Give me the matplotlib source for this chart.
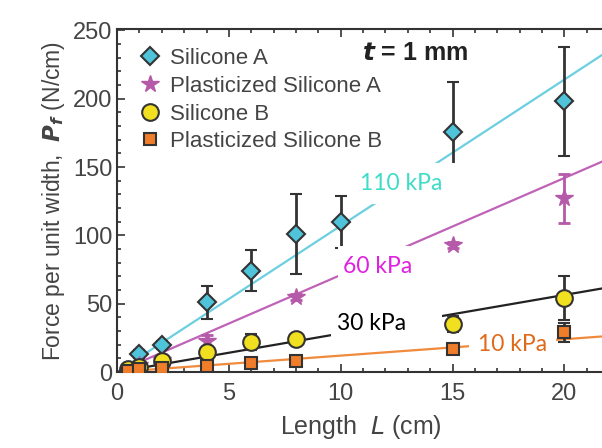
import numpy as np
import matplotlib.pyplot as plt
from matplotlib.lines import Line2D
from matplotlib.patches import Rectangle
from matplotlib.ticker import MultipleLocator

plt.rcParams['font.family'] = ['Liberation Sans', 'DejaVu Sans']

# Silicone A
L_a = [1, 2, 4, 6, 8, 10, 15, 20]
F_a = [13, 20, 51, 74, 101, 110, 176, 198]
E_a = [3, 3, 12, 15, 29, 19, 36, 40]

# Plasticized Silicone A
L_pa = [1, 2, 4, 8, 15, 20]
F_pa = [5, 9, 23, 55, 93, 127]
E_pa = [0, 0, 4, 2, 2, 18]

# Silicone B
L_b = [0.5, 1, 2, 4, 6, 8, 15, 20]
F_b = [2, 4, 8, 15, 22, 24, 35, 54]
E_b = [1, 1, 2, 3, 6, 3, 6, 16]

# Plasticized Silicone B
L_pb = [0.5, 1, 2, 4, 6, 8, 15, 20]
F_pb = [1, 2, 3, 4.5, 6.5, 8, 17, 29]
E_pb = [0.5, 0.5, 1, 1, 1, 1, 2, 7]

# fitted slopes (N/cm per cm) and labels
slopes = [10.7, 7.1, 2.82, 1.2]
moduli = ['110 kPa', '60 kPa', '30 kPa', '10 kPa']
line_colors = ['#6ccfe0', '#c062b8', '#222222', '#f08a3c']
label_colors = ['#3fdcc8', '#e020e0', '#000000', '#e06a1a']

legend_names = ['Silicone A', 'Plasticized Silicone A', 'Silicone B', 'Plasticized Silicone B']

# white label patches (x0, x1, y0, y1) and text centres
boxes = [(10.6, 15.8, 123, 153), (9.9, 13.1, 67, 92), (9.55, 14.55, 22, 48), (15.74, 19.64, 10, 28)]
label_pos = [(12.7, 138), (11.66, 77), (11.4, 35.7), (17.67, 20.4)]

fig = plt.figure(figsize=(6.02, 4.48), dpi=100)
ax = fig.add_axes([0.1944, 0.1696, 0.81, 0.7656])

xmax = 21.8
xs = np.array([0, xmax])
for s, c in zip(slopes, line_colors):
    ax.plot(xs, s * xs, color=c, lw=1.6, zorder=2)

edge = '#333333'
ax.errorbar(L_a, F_a, yerr=E_a, fmt='D', ms=9, mfc='#4fc3d9', mec=edge, mew=1.5,
            ecolor='#333333', elinewidth=2, capsize=4, capthick=2, zorder=4)
ax.errorbar(L_pa, F_pa, yerr=E_pa, fmt='*', ms=13, mfc='#b55aa8', mec='#b55aa8',
            ecolor='#b55aa8', elinewidth=2, capsize=4, capthick=2, zorder=4)
ax.errorbar(L_b, F_b, yerr=E_b, fmt='o', ms=12, mfc='#f0e020', mec=edge, mew=1.5,
            ecolor='#333333', elinewidth=2, capsize=4, capthick=2, zorder=4)
ax.errorbar(L_pb, F_pb, yerr=E_pb, fmt='s', ms=9, mfc='#f07d2a', mec=edge, mew=1.5,
            ecolor='#333333', elinewidth=2, capsize=4, capthick=2, zorder=4)

for (x0, x1, y0, y1), txt, (x, y), c in zip(boxes, moduli, label_pos, label_colors):
    ax.add_patch(Rectangle((x0, y0), x1 - x0, y1 - y0, fc='white', ec='none', zorder=5))
    ax.text(x, y, txt, color=c, fontsize=16.5, ha='center', va='center',
            family=['Lato', 'DejaVu Sans'], zorder=6)

ax.text(0.502, 0.93, r'$\bfit{t}$ = 1 mm', transform=ax.transAxes, fontsize=18,
        fontweight='bold', color='#222222', ha='left', va='center')

handles = [
    Line2D([], [], ls='none', marker='D', ms=9, mfc='#4fc3d9', mec=edge, mew=1.5),
    Line2D([], [], ls='none', marker='*', ms=13, mfc='#b55aa8', mec='#b55aa8'),
    Line2D([], [], ls='none', marker='o', ms=12, mfc='#f0e020', mec=edge, mew=1.5),
    Line2D([], [], ls='none', marker='s', ms=9, mfc='#f07d2a', mec=edge, mew=1.5),
]
leg = ax.legend(handles, legend_names, loc='upper left', frameon=False, fontsize=16,
                handlelength=0.8, handletextpad=0.5, labelspacing=0.3,
                borderaxespad=0.0, bbox_to_anchor=(0.032, 0.97))
for t in leg.get_texts():
    t.set_color('#444444')

ax.set_xlim(0, xmax)
ax.set_ylim(0, 251)
ax.xaxis.set_major_locator(MultipleLocator(5))
ax.xaxis.set_minor_locator(MultipleLocator(1))
ax.yaxis.set_major_locator(MultipleLocator(50))
ax.yaxis.set_minor_locator(MultipleLocator(10))
ax.tick_params(which='both', direction='in', top=True, right=False, colors='#333333',
               labelcolor='#444444', labelsize=17, width=1.2)
ax.tick_params(which='major', length=6)
ax.tick_params(which='minor', length=3)
ax.tick_params(axis='x', which='major', pad=8)
for side in ['left', 'bottom', 'top']:
    ax.spines[side].set_color('#333333')
    ax.spines[side].set_linewidth(1.5)
ax.spines['right'].set_visible(False)

ax.set_xlabel(r'Length  $\mathit{L}$ (cm)', fontsize=18, color='#444444', labelpad=6)
ax.set_ylabel(r'Force per unit width,  $\bfit{P_f}$ (N/cm)', fontsize=16.5,
              color='#444444', labelpad=4)

plt.savefig('out.png', dpi=100)
